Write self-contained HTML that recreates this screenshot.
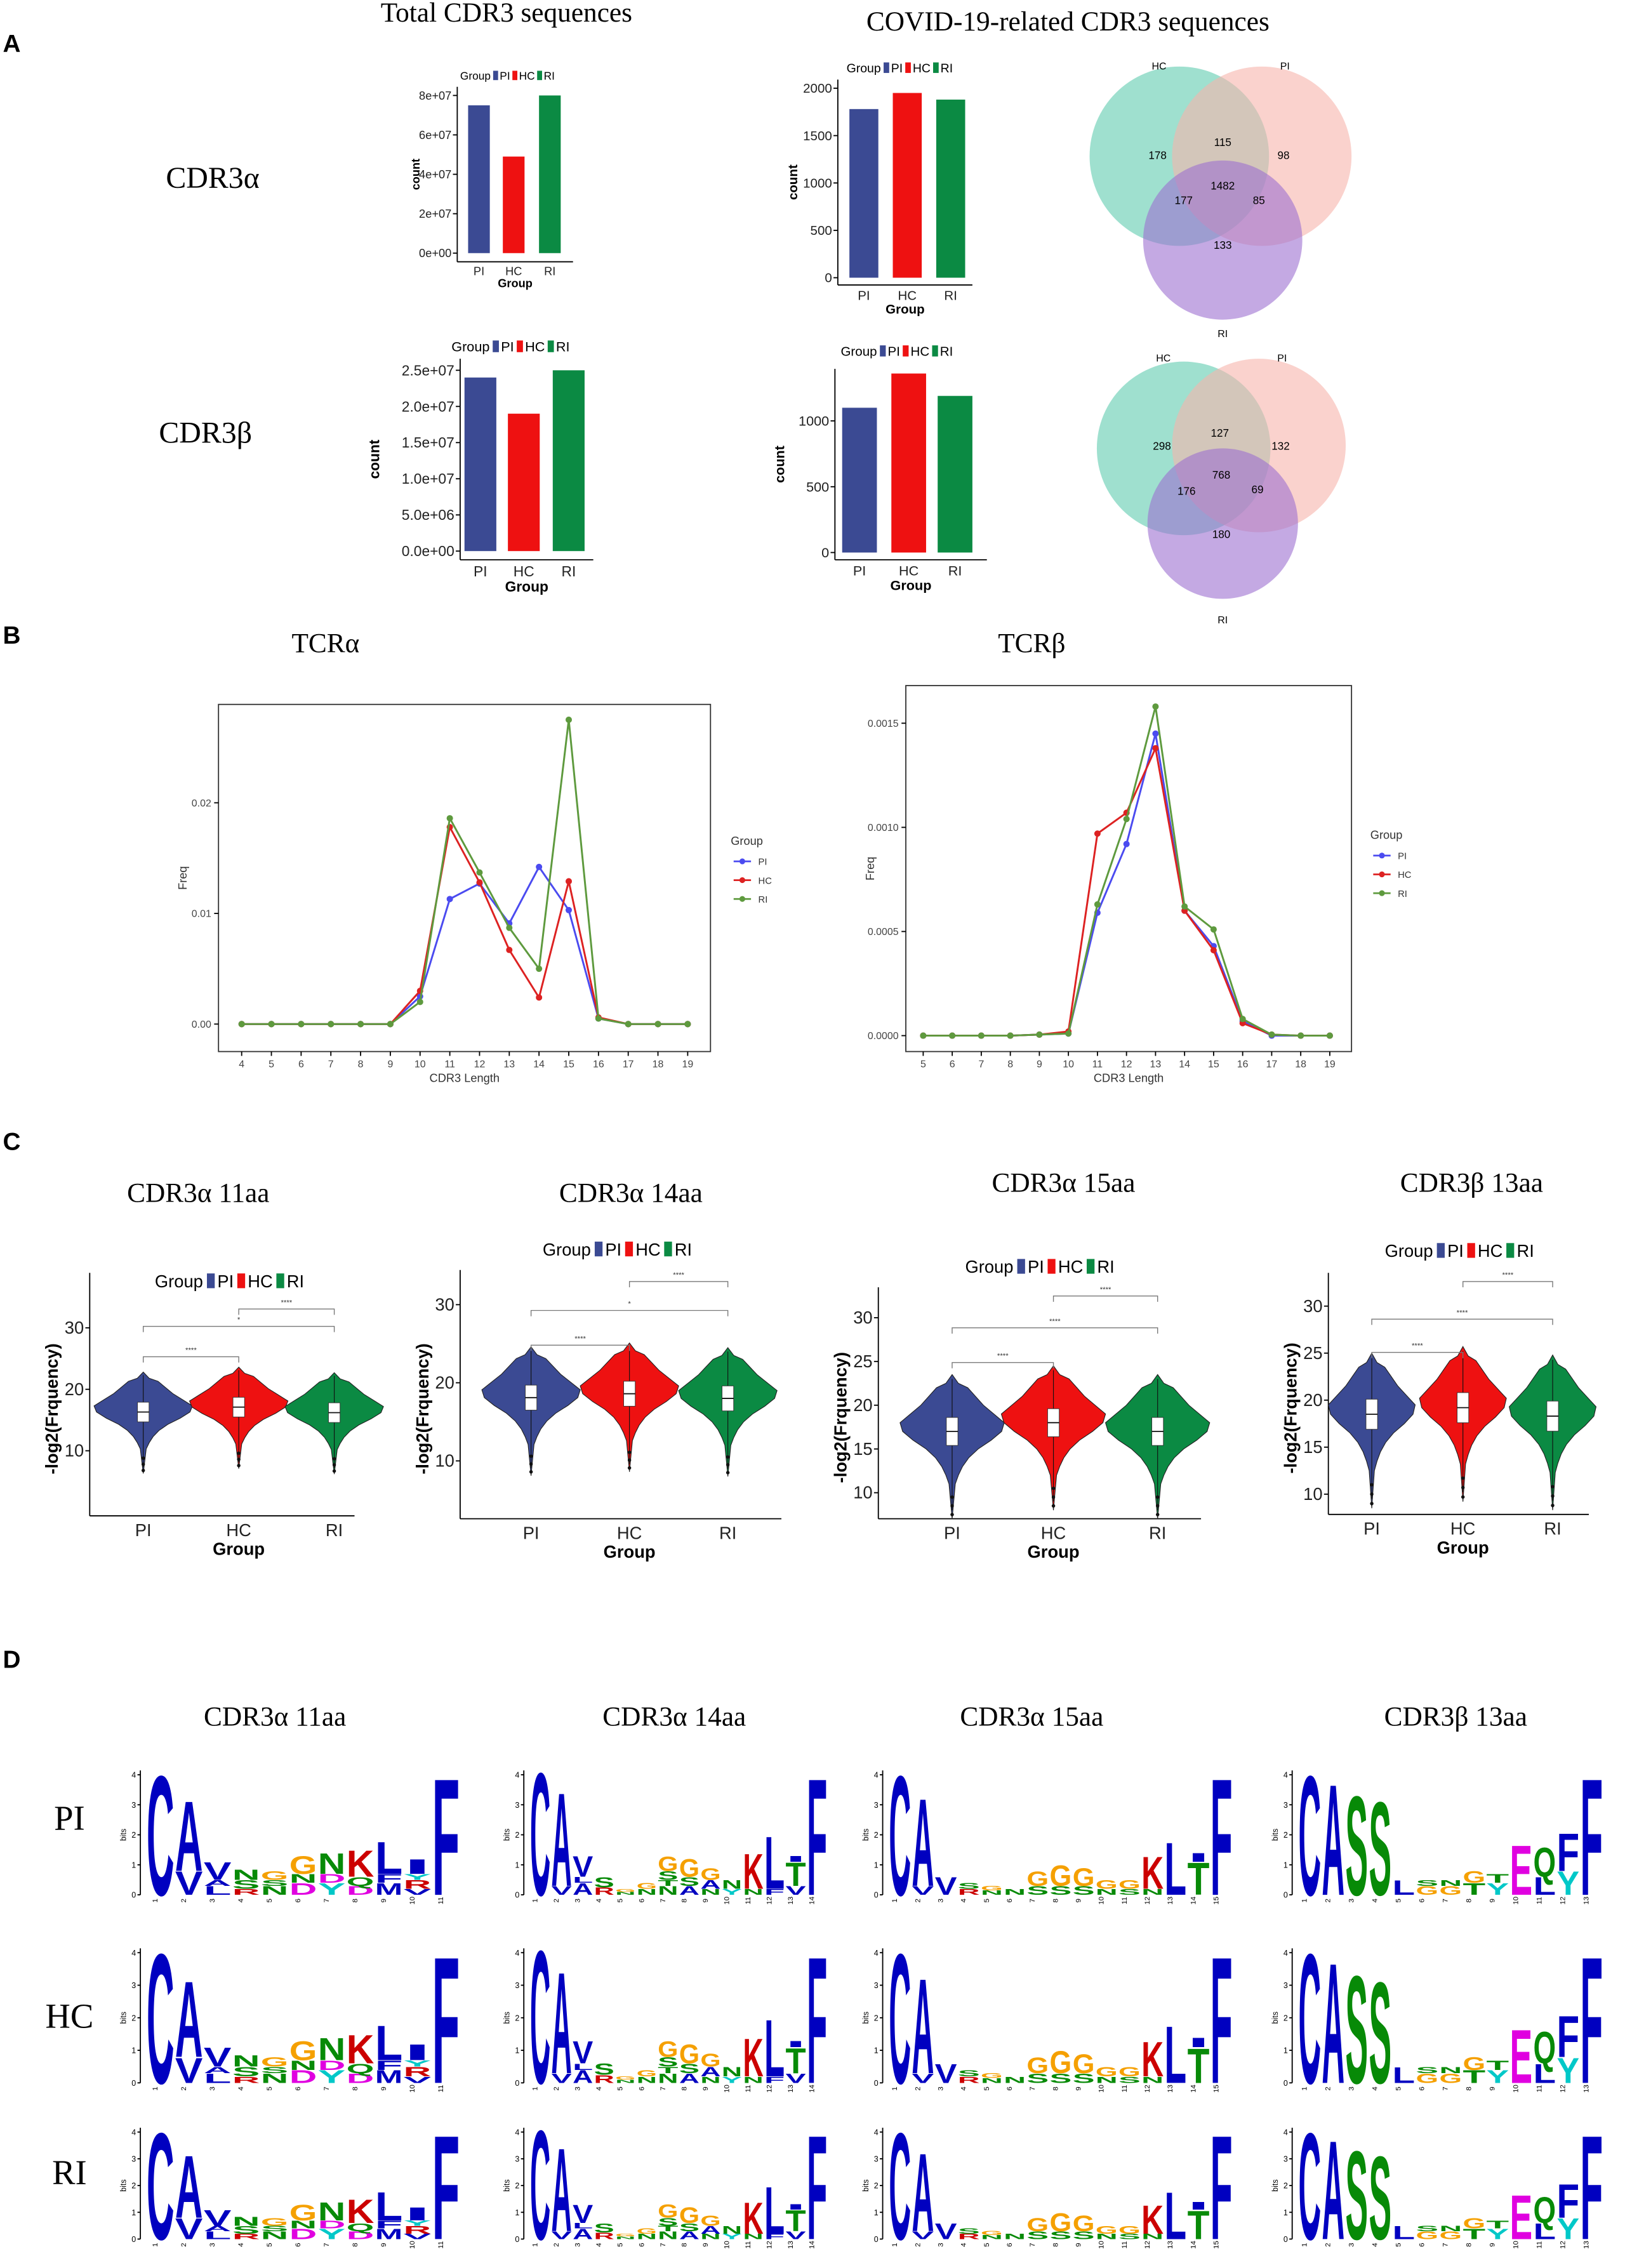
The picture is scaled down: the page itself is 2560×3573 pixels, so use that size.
<!DOCTYPE html>
<html><head><meta charset="utf-8">
<style>
html,body{margin:0;padding:0;background:#fff;}
svg{display:block;}
text{font-family:"Liberation Sans",sans-serif;}
.serif{font-family:"Liberation Serif",serif;}
</style></head>
<body>
<svg id="fig" xmlns="http://www.w3.org/2000/svg" width="2560" height="3573" viewBox="0 0 1123 1568" preserveAspectRatio="none">
<rect width="1123" height="1568" fill="#fff"/>
</svg>
<script>
// ---------- data ----------
const groups = ['PI','HC','RI'];
const colors = ['#3b4a93','#ee1111','#0b8a43'];
const totalA = [75000000, 49000000, 80000000];
const totalATicks = ['0e+00','2e+07','4e+07','6e+07','8e+07'];
const totalATickVals = [0,20000000,40000000,60000000,80000000];
const covidA = [1780, 1950, 1880];
const covidATicks = ['0','500','1000','1500','2000'];
const covidATickVals = [0,500,1000,1500,2000];
const totalB = [24000000, 19000000, 25000000];
const totalBTicks = ['0.0e+00','5.0e+06','1.0e+07','1.5e+07','2.0e+07','2.5e+07'];
const totalBTickVals = [0,5000000,10000000,15000000,20000000,25000000];
const covidB = [1100, 1360, 1190];
const covidBTicks = ['0','500','1000'];
const covidBTickVals = [0,500,1000];
const vennA = ['178','115','98','1482','177','85','133'];
const vennB = ['298','127','132','768','176','69','180'];
const lenA = [4,5,6,7,8,9,10,11,12,13,14,15,16,17,18,19];
const freqA_PI = [0,0,0,0,0,0,0.0025,0.0113,0.0127,0.0091,0.0142,0.0103,0.0005,0,0,0];
const freqA_HC = [0,0,0,0,0,0,0.003,0.0178,0.0128,0.0067,0.0024,0.0129,0.0006,0,0,0];
const freqA_RI = [0,0,0,0,0,0,0.002,0.0186,0.0137,0.0087,0.005,0.0275,0.0005,0,0,0];
const lenB = [5,6,7,8,9,10,11,12,13,14,15,16,17,18,19];
const freqB_PI = [0,0,0,0,0.000005,0.00001,0.00059,0.00092,0.00145,0.0006,0.00043,0.00007,0,0,0];
const freqB_HC = [0,0,0,0,0.000005,0.00002,0.00097,0.00107,0.00138,0.0006,0.00041,0.00006,0.000005,0,0];
const freqB_RI = [0,0,0,0,0.000005,0.00001,0.00063,0.00104,0.00158,0.00062,0.00051,0.00008,0.000005,0,0];
const vMed1 = [16.3, 17.1, 16.2];
const vMed2 = [18.1, 18.6, 18.0];
const vMed3 = [17.0, 18.0, 17.0];
const vMed4 = [18.5, 19.2, 18.3];

// ---------- helpers ----------
const NS='http://www.w3.org/2000/svg';
const svg=document.getElementById('fig');
function mk(tag, attrs, name, parent){
  const el=document.createElementNS(NS,tag);
  for(const k in attrs) el.setAttribute(k,attrs[k]);
  
  
  (parent||svg).appendChild(el);
  return el;
}
function txt(x,y,s,size,name,opt){
  opt=opt||{};
  const a={x:x,y:y,'font-size':size,fill:opt.fill||'#000','text-anchor':opt.anchor||'start'};
  if(opt.weight) a['font-weight']=opt.weight;
  if(opt.cls) a['class']=opt.cls;
  if(opt.transform) a.transform=opt.transform;
  const t=mk('text',a,name,opt.parent);
  t.textContent=s; return t;
}
function line(x1,y1,x2,y2,name,stroke,w){
  return mk('line',{x1:x1,y1:y1,x2:x2,y2:y2,stroke:stroke||'#000','stroke-width':w||0.8},name);
}

// ---------- panel labels & titles ----------
txt(2,36,'A',17,'panel-label-a',{weight:'bold'});
txt(2,445,'B',17,'panel-label-b',{weight:'bold'});
txt(2,795,'C',17,'panel-label-c',{weight:'bold'});
txt(2,1153,'D',17,'panel-label-d',{weight:'bold'});
txt(350,15,'Total CDR3 sequences',19,'title-total-cdr3',{anchor:'middle',cls:'serif'});
txt(738,21,'COVID-19-related CDR3 sequences',19,'title-covid-cdr3',{anchor:'middle',cls:'serif'});
txt(147,130,'CDR3α',21,'row-label-cdr3a',{anchor:'middle',cls:'serif'});
txt(142,306,'CDR3β',21,'row-label-cdr3b',{anchor:'middle',cls:'serif'});

// ---------- bar charts ----------
function legend(x,y,fs,name){
  let cx=x;
  const t=txt(cx,y,'Group',fs,name+'-title');
  cx+=fs*3.0;
  for(let i=0;i<3;i++){
    mk('rect',{x:cx,y:y-fs*0.8,width:fs*0.45,height:fs*0.85,fill:colors[i]},name+'-swatch-'+groups[i].toLowerCase());
    cx+=fs*0.6;
    txt(cx,y,groups[i],fs,name+'-label-'+groups[i].toLowerCase());
    cx+=fs*(groups[i]==='PI'?1.15:1.65);
  }
}
function barChart(c){
  const sy=v=>c.y0-(v-0)/(c.vmax)*(c.y0-c.ytop);
  line(c.ax,c.axTop,c.ax,c.axBot,c.name+'-y-axis');
  line(c.ax,c.axBot,c.axR,c.axBot,c.name+'-x-axis');
  c.tickVals.forEach((v,i)=>{
    const y=sy(v);
    line(c.ax-3,y,c.ax,y,c.name+'-y-tick');
    txt(c.ax-4,y+c.fs*0.35,c.ticks[i],c.fs,c.name+'-y-tick-label',{anchor:'end',fill:'#222'});
  });
  c.values.forEach((v,i)=>{
    const cx=c.centers[i];
    mk('rect',{x:cx-c.bw/2,y:sy(v),width:c.bw,height:c.y0-sy(v),fill:colors[i]},c.name+'-bar-'+groups[i].toLowerCase());
    txt(cx,c.axBot+c.fs*1.15,groups[i],c.fs,c.name+'-x-tick-label',{anchor:'middle',fill:'#222'});
  });
  txt((c.ax+c.axR)/2,c.axBot+c.fs*2.2,'Group',c.fs,c.name+'-x-axis-title',{anchor:'middle',weight:'bold'});
  const my=(c.axTop+c.axBot)/2;
  txt(c.ylx,my,'count',c.fs,c.name+'-y-axis-title',{anchor:'middle',weight:'bold',transform:'rotate(-90 '+c.ylx+' '+my+')'});
  legend(c.legX,c.legY,c.fs*0.95,c.name+'-legend');
}
barChart({name:'total-a',values:totalA,ticks:totalATicks,tickVals:totalATickVals,vmax:80000000,y0:175,ytop:66,ax:316,axTop:60,axBot:181,axR:396,centers:[331,355,380],bw:15,fs:8,ylx:290,legX:318,legY:55});
barChart({name:'covid-a',values:covidA,ticks:covidATicks,tickVals:covidATickVals,vmax:2000,y0:192,ytop:61,ax:579,axTop:55,axBot:197,axR:672,centers:[597,627,657],bw:20,fs:9,ylx:551,legX:585,legY:50});
barChart({name:'total-b',values:totalB,ticks:totalBTicks,tickVals:totalBTickVals,vmax:25000000,y0:381,ytop:256,ax:318,axTop:248,axBot:387,axR:410,centers:[332,362,393],bw:22,fs:10,ylx:262,legX:312,legY:243});
barChart({name:'covid-b',values:covidB,ticks:covidBTicks,tickVals:covidBTickVals,vmax:1000,y0:382,ytop:291,ax:577,axTop:255,axBot:387,axR:682,centers:[594,628,660],bw:24,fs:9.5,ylx:542,legX:581,legY:246});

// ---------- venn ----------
function venn(c,vals,name){
  mk('circle',{cx:c.hx,cy:c.hy,r:c.r,fill:'#7fd6bf','fill-opacity':0.75},name+'-circle-hc');
  mk('circle',{cx:c.px,cy:c.py,r:c.r,fill:'#f7b4ac','fill-opacity':0.6},name+'-circle-pi');
  mk('circle',{cx:c.rx,cy:c.ry,r:c.rr,fill:'#9d6fd1','fill-opacity':0.6},name+'-circle-ri');
  txt(c.hx-14,c.ty,'HC',7,name+'-label-hc',{anchor:'middle'});
  txt(c.px+16,c.ty,'PI',7,name+'-label-pi',{anchor:'middle'});
  txt(c.rx,c.rly,'RI',7,name+'-label-ri',{anchor:'middle'});
  c.pos.forEach((p,i)=>txt(p[0],p[1],vals[i],7.5,name+'-count',{anchor:'middle'}));
}
venn({hx:815,hy:108,px:872,py:108,r:62,rx:845,ry:166,rr:55,ty:48,rly:233,
  pos:[[800,110],[845,101],[887,110],[845,131],[818,141],[870,141],[845,172]]},vennA,'venn-a');
venn({hx:818,hy:310,px:870,py:308,r:60,rx:845,ry:362,rr:52,ty:250,rly:431,
  pos:[[803,311],[843,302],[885,311],[844,331],[820,342],[869,341],[844,372]]},vennB,'venn-b');

// ---------- line charts ----------
function lineChart(c){
  mk('rect',{x:c.x0,y:c.y0,width:c.x1-c.x0,height:c.y1-c.y0,fill:'none',stroke:'#333','stroke-width':0.8},c.name+'-frame');
  const sx=v=>c.xa+(v-c.lens[0])*c.xs;
  const sy=v=>c.yz-v*c.ys;
  c.yt.forEach((v,i)=>{
    line(c.x0-3,sy(v),c.x0,sy(v),c.name+'-y-tick');
    txt(c.x0-5,sy(v)+2.5,c.ytl[i],7,c.name+'-y-tick-label',{anchor:'end',fill:'#444'});
  });
  c.lens.forEach(v=>{
    line(sx(v),c.y1,sx(v),c.y1+3,c.name+'-x-tick');
    txt(sx(v),c.y1+11,String(v),7,c.name+'-x-tick-label',{anchor:'middle',fill:'#444'});
  });
  txt((c.x0+c.x1)/2,c.y1+21,'CDR3 Length',8,c.name+'-x-axis-title',{anchor:'middle',fill:'#333'});
  const my=(c.y0+c.y1)/2;
  txt(c.x0-22,my,'Freq',8,c.name+'-y-axis-title',{anchor:'middle',fill:'#333',transform:'rotate(-90 '+(c.x0-22)+' '+my+')'});
  const lc=['#4b4bf0','#dd2222','#5e9a3e'];
  c.series.forEach((s,gi)=>{
    const pts=s.map((v,i)=>sx(c.lens[i])+','+sy(v)).join(' ');
    mk('polyline',{points:pts,fill:'none',stroke:lc[gi],'stroke-width':1.3},c.name+'-line-'+groups[gi].toLowerCase());
    s.forEach((v,i)=>mk('circle',{cx:sx(c.lens[i]),cy:sy(v),r:2.2,fill:lc[gi]},c.name+'-point-'+groups[gi].toLowerCase()));
  });
  txt(c.lx,c.ly,'Group',8,c.name+'-legend-title',{fill:'#333'});
  groups.forEach((g,i)=>{
    const y=c.ly+14+i*13;
    line(c.lx+2,y-2.5,c.lx+14,y-2.5,c.name+'-legend-line',lc[i],1.2);
    mk('circle',{cx:c.lx+8,cy:y-2.5,r:2,fill:lc[i]},c.name+'-legend-dot');
    txt(c.lx+19,y,g,6.5,c.name+'-legend-label-'+g.toLowerCase(),{fill:'#333'});
  });
}
txt(225,451,'TCRα',19,'title-tcra',{anchor:'middle',cls:'serif'});
txt(713,451,'TCRβ',19,'title-tcrb',{anchor:'middle',cls:'serif'});
lineChart({name:'tcra',x0:151,x1:491,y0:487,y1:727,lens:lenA,xa:167,xs:20.55,yz:708,ys:7650,
  yt:[0,0.01,0.02],ytl:['0.00','0.01','0.02'],series:[freqA_PI,freqA_HC,freqA_RI],lx:505,ly:584});
lineChart({name:'tcrb',x0:626,x1:934,y0:474,y1:727,lens:lenB,xa:638,xs:20.07,yz:716,ys:144000,
  yt:[0,0.0005,0.001,0.0015],ytl:['0.0000','0.0005','0.0010','0.0015'],series:[freqB_PI,freqB_HC,freqB_RI],lx:947,ly:580});

// ---------- violins ----------
const profOff=[6.5,5.5,5,4,3,2,1,0,-1,-2,-3,-4,-5,-6,-8,-10];
const profW=[0,0.12,0.3,0.45,0.6,0.8,1,0.95,0.75,0.5,0.32,0.2,0.12,0.06,0.03,0];
function violinPanel(c){
  const sy=v=>c.p10-(v-10)*c.k;
  line(c.ax,c.axTop,c.ax,c.axBot,c.name+'-y-axis');
  line(c.ax,c.axBot,c.axR,c.axBot,c.name+'-x-axis');
  c.tv.forEach(v=>{
    line(c.ax-3,sy(v),c.ax,sy(v),c.name+'-y-tick');
    txt(c.ax-4,sy(v)+4,String(v),12,c.name+'-y-tick-label',{anchor:'end',fill:'#222'});
  });
  c.meds.forEach((m,i)=>{
    const cx=c.centers[i];
    let r='',l='';
    profOff.forEach((o,j)=>{ r+=(j?'L':'M')+(cx+profW[j]*c.hw)+' '+sy(m+o)+' '; });
    for(let j=profOff.length-1;j>=0;j--) l+='L'+(cx-profW[j]*c.hw)+' '+sy(m+profOff[j])+' ';
    mk('path',{d:r+l+'Z',fill:colors[i],stroke:'#222','stroke-width':0.5},c.name+'-violin-'+groups[i].toLowerCase());
    line(cx,sy(m+6),cx,sy(m-9),c.name+'-whisker',"#111",0.5);
    mk('rect',{x:cx-4,y:sy(m+1.6),width:8,height:sy(m-1.6)-sy(m+1.6),fill:'#fff',stroke:'#333','stroke-width':0.4},c.name+'-box-'+groups[i].toLowerCase());
    line(cx-4,sy(m),cx+4,sy(m),c.name+'-median',"#111",0.8);
    [-7.5,-8.5,-9.5].forEach(o=>mk('circle',{cx:cx,cy:sy(m+o),r:1.2,fill:'#111'},c.name+'-outlier'));
    txt(cx,c.axBot+14,groups[i],12,c.name+'-x-tick-label',{anchor:'middle',fill:'#222'});
  });
  txt(c.centers[1],c.axBot+27,'Group',12,c.name+'-x-axis-title',{anchor:'middle',weight:'bold'});
  const my=(c.axTop+c.axBot)/2+10;
  txt(c.ax-22,my,'-log2(Frquency)',12,c.name+'-y-axis-title',{anchor:'middle',weight:'bold',transform:'rotate(-90 '+(c.ax-22)+' '+my+')'});
  const C=c.centers;
  [[0,1,c.br[0],'****'],[0,2,c.br[1],c.mid],[1,2,c.br[2],'****']].forEach((b,i)=>{
    mk('path',{d:'M'+C[b[0]]+' '+(b[2]+4)+'V'+b[2]+'H'+C[b[1]]+'V'+(b[2]+4),fill:'none',stroke:'#777','stroke-width':0.6},c.name+'-bracket');
    txt((C[b[0]]+C[b[1]])/2,b[2]-3,b[3],5,c.name+'-signif',{anchor:'middle',fill:'#333'});
  });
  legend(c.legX,c.legY,12,c.name+'-legend');
  txt(c.tx,c.ty,c.title,19,c.name+'-title',{anchor:'middle',cls:'serif'});
}
violinPanel({name:'vio-a11',meds:vMed1,p10:1003,k:4.25,ax:62,axR:245,axTop:880,axBot:1048,tv:[10,20,30],centers:[99,165,231],hw:34,br:[938,917,905],mid:'*',legX:107,legY:890,title:'CDR3α 11aa',tx:137,ty:831});
violinPanel({name:'vio-a14',meds:vMed2,p10:1010,k:5.4,ax:318,axR:540,axTop:878,axBot:1050,tv:[10,20,30],centers:[367,435,503],hw:34,br:[930,906,886],mid:'*',legX:375,legY:868,title:'CDR3α 14aa',tx:436,ty:831});
violinPanel({name:'vio-a15',meds:vMed3,p10:1032,k:6.05,ax:607,axR:830,axTop:890,axBot:1050,tv:[10,15,20,25,30],centers:[658,728,800],hw:36,br:[942,918,896],mid:'****',legX:667,legY:880,title:'CDR3α 15aa',tx:735,ty:824});
violinPanel({name:'vio-b13',meds:vMed4,p10:1033,k:6.5,ax:918,axR:1098,axTop:880,axBot:1047,tv:[10,15,20,25,30],centers:[948,1011,1073],hw:30,br:[935,912,886],mid:'****',legX:957,legY:869,title:'CDR3β 13aa',tx:1017,ty:824});

// ---------- sequence logos ----------
const letterColor={C:'#0000c0',A:'#0000c0',V:'#0000c0',F:'#0000c0',L:'#0000c0',I:'#0000c0',M:'#0000c0',W:'#0000c0',
  K:'#cc0000',R:'#cc0000',H:'#cc0000',G:'#f5a000',N:'#078a07',S:'#078a07',T:'#078a07',Q:'#078a07',
  D:'#e000e0',E:'#e000e0',Y:'#00c8c8',P:'#e8c800'};
const logo11=[[['C',4.1]],[['V',0.8],['A',2.4]],[['L',0.3],['A',0.2],['V',0.6]],[['R',0.2],['S',0.3],['N',0.35]],[['N',0.3],['S',0.2],['G',0.3]],[['D',0.4],['N',0.3],['G',0.6]],[['Y',0.4],['D',0.3],['N',0.7]],[['D',0.3],['Q',0.3],['K',0.9]],[['M',0.4],['F',0.3],['L',1.1]],[['V',0.2],['R',0.3],['Y',0.2],['I',0.5]],[['F',4.0]]];
const logo14=[[['C',4.2]],[['V',0.3],['A',3.2]],[['A',0.4],['L',0.2],['V',0.7]],[['R',0.25],['S',0.35]],[['N',0.1],['G',0.1]],[['N',0.2],['G',0.2]],[['N',0.3],['T',0.2],['S',0.3],['G',0.5]],[['A',0.3],['S',0.3],['G',0.6]],[['N',0.2],['A',0.3],['G',0.4]],[['Y',0.2],['N',0.3]],[['N',0.2],['K',1.2]],[['F',0.2],['L',1.8]],[['V',0.3],['T',0.8],['I',0.2]],[['F',4.0]]];
const logo15=[[['C',4.1]],[['V',0.3],['A',3.0]],[['V',0.6]],[['R',0.2],['S',0.2]],[['N',0.15],['G',0.15]],[['N',0.2]],[['S',0.3],['G',0.5]],[['S',0.3],['G',0.7]],[['S',0.3],['G',0.6]],[['N',0.2],['G',0.3]],[['S',0.2],['G',0.3]],[['N',0.2],['K',1.1]],[['L',1.8]],[['T',1.1],['I',0.3]],[['F',4.0]]];
const logo13=[[['C',4.1]],[['A',3.8]],[['S',3.4]],[['S',3.2]],[['L',0.5]],[['G',0.3],['S',0.2]],[['G',0.3],['N',0.2]],[['T',0.4],['G',0.4]],[['Y',0.4],['T',0.3]],[['E',1.7]],[['L',0.6],['Q',1.0]],[['Y',0.8],['F',1.3]],[['F',4.0]]];
const logoCols=[{data:logo11,ax:97,x1:318,title:'CDR3α 11aa',tx:190},{data:logo14,ax:362,x1:572,title:'CDR3α 14aa',tx:466},{data:logo15,ax:610,x1:852,title:'CDR3α 15aa',tx:713},{data:logo13,ax:893,x1:1108,title:'CDR3β 13aa',tx:1006}];
const logoRows=[{y4:1227,y0:1310,label:'PI',ly:1265},{y4:1350,y0:1440,label:'HC',ly:1402},{y4:1474,y0:1548,label:'RI',ly:1510}];
logoCols.forEach((c,ci)=>txt(c.tx,1193,c.title,19,'logo-title-'+ci,{anchor:'middle',cls:'serif'}));
logoRows.forEach(r=>txt(48,r.ly,r.label,24,'logo-row-label-'+r.label.toLowerCase(),{anchor:'middle',cls:'serif'}));
logoRows.forEach((r,ri)=>{
  logoCols.forEach((c,ci)=>{
    const nm='logo-'+r.label.toLowerCase()+'-'+ci;
    const bit=(r.y0-r.y4)/4;
    line(c.ax,r.y4-3,c.ax,r.y0,nm+'-y-axis');
    for(let b=0;b<=4;b++){
      line(c.ax-2,r.y0-b*bit,c.ax,r.y0-b*bit,nm+'-y-tick');
      txt(c.ax-3,r.y0-b*bit+2,String(b),5.5,nm+'-y-tick-label',{anchor:'end'});
    }
    const my=(r.y4+r.y0)/2;
    txt(c.ax-10,my,'bits',5.5,nm+'-y-axis-title',{anchor:'middle',transform:'rotate(-90 '+(c.ax-10)+' '+my+')'});
    const pw=(c.x1-c.ax-4)/c.data.length;
    c.data.forEach((stack,pi)=>{
      const x=c.ax+4+pi*pw;
      let yb=r.y0;
      stack.forEach(s=>{
        const h=s[1]*bit;
        const t=mk('text',{x:0,y:0,'font-size':10,'font-weight':'bold',fill:letterColor[s[0]]||'#000',textLength:7.2,lengthAdjust:'spacingAndGlyphs',
          transform:'translate('+(x+0.3)+' '+yb+') scale('+((pw-0.6)/7.2)+' '+(h/7.2)+')'},nm+'-letter');
        t.textContent=s[0];
        yb-=h;
      });
      txt(x+pw/2+2,r.y0+4,String(pi+1),5,nm+'-pos-label',{anchor:'middle',transform:'rotate(-90 '+(x+pw/2)+' '+(r.y0+6)+')'});
    });
  });
});
</script>
</body></html>
